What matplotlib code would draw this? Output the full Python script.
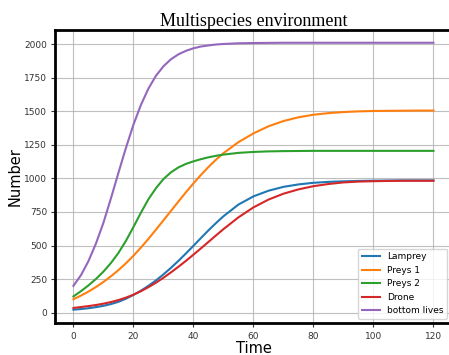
import matplotlib.pyplot as plt

t = [0, 2.5, 5, 7.5, 10, 12.5, 15, 17.5, 20, 22.5, 25, 27.5, 30, 32.5, 35, 37.5, 40, 42.5, 45, 47.5, 50,
     55, 60, 65, 70, 75, 80, 85, 90, 95, 100, 105, 110, 115, 120]

lamprey = [22, 27, 33, 41, 51, 64, 81, 104, 132, 164, 200, 240, 285, 334, 386, 441, 498, 556, 613, 667, 718,
           805, 866, 908, 937, 955, 967, 974, 978, 981, 983, 984, 985, 985, 985]
preys1 = [100, 127, 157, 191, 229, 271, 317, 368, 424, 485, 550, 618, 688, 758, 828, 897, 963, 1026, 1085, 1139, 1188,
          1270, 1335, 1388, 1427, 1455, 1474, 1486, 1494, 1499, 1502, 1503, 1504, 1505, 1505]
preys2 = [121, 160, 203, 251, 306, 370, 445, 535, 638, 745, 845, 927, 995, 1045, 1082, 1108, 1127, 1143, 1157, 1168, 1177,
          1190, 1197, 1201, 1203, 1204, 1205, 1205, 1205, 1205, 1205, 1205, 1205, 1205, 1205]
drone = [35, 42, 49, 57, 67, 79, 94, 112, 134, 160, 190, 223, 260, 300, 342, 386, 432, 479, 527, 575, 622,
         710, 784, 842, 886, 918, 942, 958, 970, 976, 979, 981, 982, 982, 982]
bottom = [200, 279, 384, 515, 670, 852, 1042, 1228, 1400, 1548, 1669, 1764, 1835, 1887, 1924, 1950, 1969, 1982, 1990, 1997, 2001,
          2006, 2008, 2009, 2010, 2010, 2010, 2010, 2010, 2010, 2010, 2010, 2010, 2010, 2010]

fig = plt.figure(figsize=(4.49, 3.55), dpi=100)
ax = fig.add_axes([0.1235, 0.089, 0.882, 0.8265])

ax.plot(t, lamprey, color='#1f77b4', lw=1.5, label='Lamprey')
ax.plot(t, preys1, color='#ff7f0e', lw=1.5, label='Preys 1')
ax.plot(t, preys2, color='#2ca02c', lw=1.5, label='Preys 2')
ax.plot(t, drone, color='#d62728', lw=1.5, label='Drone')
ax.plot(t, bottom, color='#9467bd', lw=1.5, label='bottom lives')

ax.set_xlim(-6, 126)
ax.set_ylim(-80, 2105)
ax.set_xticks([0, 20, 40, 60, 80, 100, 120])
ax.set_yticks([0, 250, 500, 750, 1000, 1250, 1500, 1750, 2000])
ax.grid(True, color='#b0b0b0', lw=0.8, alpha=0.8)
ax.tick_params(labelsize=6.5, colors='#333333', length=3, pad=3)
for s in ax.spines.values():
    s.set_linewidth(2)
    s.set_color('black')

ax.set_title('Multispecies environment', fontfamily='Liberation Serif', fontsize=13, pad=3)
ax.set_xlabel('Time', fontsize=10.5, labelpad=0)
ax.set_ylabel('Number', fontsize=10.5, labelpad=1)
ax.legend(loc='lower right', fontsize=6.5, handlelength=2, borderaxespad=0.5)

fig.savefig('out.png', dpi=100)
